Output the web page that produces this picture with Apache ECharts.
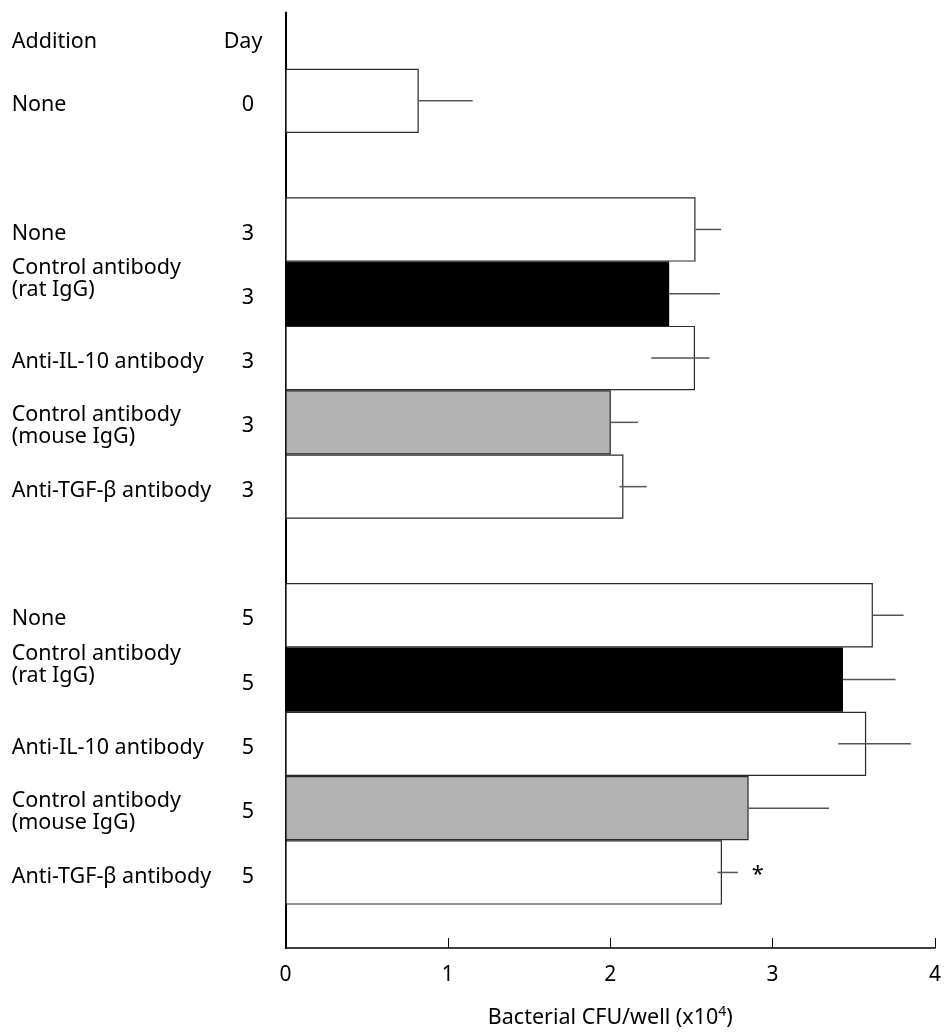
<!DOCTYPE html>
<html><head><meta charset="utf-8">
<script src="https://cdn.jsdelivr.net/npm/echarts@6/dist/echarts.min.js"></script>
<style>html,body{margin:0;padding:0;background:#fff}#c{width:944px;height:1034px}</style>
</head><body><div id="c"></div>
<script>
// ---- data ----
const additions = ['Addition', 'None', '', 'None', 'Control antibody\n(rat IgG)', 'Anti-IL-10 antibody', 'Control antibody\n(mouse IgG)', 'Anti-TGF-\u03b2 antibody', '', 'None', 'Control antibody\n(rat IgG)', 'Anti-IL-10 antibody', 'Control antibody\n(mouse IgG)', 'Anti-TGF-\u03b2 antibody', ''];
const days = ['Day', '0', '', '3', '3', '3', '3', '3', '', '5', '5', '5', '5', '5', ''];
const treatment = ['', 'none', '', 'none', 'rat', 'il10', 'mouse', 'tgf', '', 'none', 'rat', 'il10', 'mouse', 'tgf', ''];
const cfu = [null, 0.815, null, 2.508, 2.347, 2.505, 1.99, 2.067, null, 3.593, 3.41, 3.552, 2.833, 2.67, null];
const errLow = [null, 0.815, null, 2.508, 2.347, 2.237, 1.99, 2.043, null, 3.593, 3.41, 3.381, 2.833, 2.643, null];
const errHigh = [null, 1.145, null, 2.665, 2.657, 2.594, 2.157, 2.21, null, 3.781, 3.732, 3.825, 3.325, 2.767, null];
const signif = ['', '', '', '', '', '', '', '', '', '', '', '', '', '*', ''];
const xMin = 0, xMax = 4, xStep = 1;
const xTitle = '{a|Bacterial CFU/well (x10}{s|4}{a|)}';

// ---- styles ----
const FONT = 'Noto Sans';
const FS = 21.5;
const fillOf = { none: '#ffffff', il10: '#ffffff', tgf: '#ffffff', rat: '#000000', mouse: '#b3b3b3' };
const cats = additions.map((_, i) => String(i));

const chart = echarts.init(document.getElementById('c'), null, { renderer: 'canvas' });
const L = 285.5, R = 944 - 939.4;

chart.setOption({
  animation: false,
  backgroundColor: '#fff',
  textStyle: { fontFamily: FONT },
  grid: [
    { left: L, right: R, top: 12.5, bottom: 1034 - 965, containLabel: false },
    { left: L, right: R, top: 4.4, bottom: 1034 - 968.9, containLabel: false }
  ],
  xAxis: [
    {
      gridIndex: 0, type: 'value', min: xMin, max: xMax, interval: xStep,
      axisLine: { show: true, lineStyle: { color: '#000', width: 1.5 } },
      axisTick: { show: true, inside: true, length: 10, lineStyle: { color: '#000', width: 1 } },
      splitLine: { show: false },
      axisLabel: { color: '#000', fontSize: 21, fontFamily: FONT, margin: 17 },
      name: xTitle, nameLocation: 'middle', nameGap: 57,
      nameTextStyle: {
        rich: {
          a: { fontSize: 21.5, fontFamily: FONT, color: '#000' },
          s: { fontSize: 14, fontFamily: FONT, color: '#000', padding: [0, 0, 12, 0] }
        }
      }
    },
    {
      gridIndex: 1, type: 'value', min: xMin, max: xMax, show: false
    }
  ],
  yAxis: [
    {
      gridIndex: 0, type: 'value', min: 0, max: 1,
      axisLine: { show: true, onZero: false, lineStyle: { color: '#000', width: 2 } },
      axisTick: { show: false }, axisLabel: { show: false }, splitLine: { show: false }
    },
    {
      gridIndex: 1, type: 'category', data: cats, inverse: true, position: 'left',
      axisLine: { show: false }, axisTick: { show: false }, splitLine: { show: false },
      axisLabel: {
        interval: 0, align: 'left', margin: 273.8, color: '#000', fontSize: FS, fontFamily: FONT, lineHeight: 22,
        padding: [8, 0, 0, 0],
        formatter: (v, i) => {
          const t = additions[i];
          if (i === 0) return '{h|' + t + '}';
          if (treatment[i] === 'rat') return t + '\n{sp| }';
          return t;
        },
        rich: {
          h: { fontSize: FS, fontFamily: FONT, color: '#000', padding: [3, 0, 0, 0] },
          sp: { fontSize: 10, lineHeight: 38 }
        }
      }
    },
    {
      gridIndex: 1, type: 'category', data: cats, inverse: true, position: 'left',
      axisLine: { show: false }, axisTick: { show: false }, splitLine: { show: false },
      axisLabel: {
        interval: 0, align: 'center', margin: 37.5, color: '#000', fontSize: FS, fontFamily: FONT,
        padding: [8, 0, 0, 0],
        formatter: (v, i) => i === 0 ? '{dh|' + days[i] + '}' : days[i],
        rich: { dh: { fontSize: FS, fontFamily: FONT, color: '#000', padding: [3, 10, 0, 0] } }
      }
    }
  ],
  series: [
    {
      type: 'bar', xAxisIndex: 1, yAxisIndex: 1, barWidth: '100%', barGap: '0%',
      data: cfu.map((v, i) => v == null ? null : {
        value: v,
        itemStyle: { color: fillOf[treatment[i]], borderColor: treatment[i] === 'rat' ? '#000' : '#2a2a2a', borderWidth: 1.2 }
      })
    },
    {
      type: 'custom', xAxisIndex: 1, yAxisIndex: 1,
      encode: { x: [0, 1], y: 2 },
      data: cfu.map((v, i) => v == null ? null : [errLow[i], errHigh[i], i]).filter(d => d),
      renderItem: (params, api) => {
        const idx = api.value(2);
        const p1 = api.coord([api.value(0), idx]);
        const p2 = api.coord([api.value(1), idx]);
        const children = [{
          type: 'line',
          shape: { x1: p1[0], y1: p1[1], x2: p2[0], y2: p2[1] },
          style: { stroke: '#555', lineWidth: 1.5 }
        }];
        if (signif[idx]) {
          children.push({
            type: 'text',
            style: { text: signif[idx], x: p2[0] + 20, y: p1[1] + 2, align: 'center', verticalAlign: 'middle', fontSize: 22, fontFamily: FONT, fill: '#000' }
          });
        }
        return { type: 'group', children };
      },
      z: 5
    }
  ]
});
</script>
</body></html>
